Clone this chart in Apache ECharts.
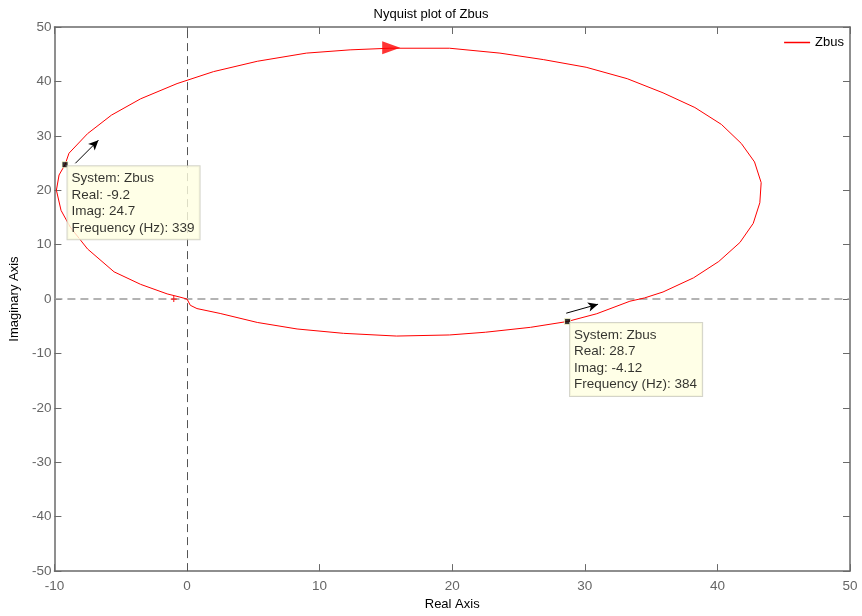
<!DOCTYPE html>
<html>
<head>
<meta charset="utf-8">
<script src="https://cdn.jsdelivr.net/npm/echarts@6/dist/echarts.min.js"></script>
<style>
  html, body { margin: 0; padding: 0; background: #fff; }
  #chart { width: 862px; height: 616px; }
</style>
</head>
<body>
<div id="chart"></div>
<script>
// Nyquist locus of Zbus, traced from the origin counter-clockwise back to it
const realPart = [0, -0.6, -1.5, -3.5, -5.5, -7.5, -8.8, -9.5, -9.85, -9.65, -9.2, -8.9, -7.5, -5.7, -3.5,
  -0.75, 2.0, 5.3, 9.0, 12.3, 15.3, 19.8, 23.6, 26.9, 30.1, 33.2, 35.9, 38.3, 40.3, 41.8, 42.8,
  43.3, 43.2, 42.7, 41.7, 40.1, 38.2, 35.9, 34.5, 33.4, 30.9, 28.7, 25.9, 22.5, 19.8, 15.8,
  11.8, 8.3, 5.3, 2.5, 0.75, 0.25, 0];
const imagPart = [0, 0.4, 0.95, 2.7, 5.0, 9.2, 13.2, 16.3, 20.0, 22.8, 24.7, 26.8, 30.4, 33.8, 36.8,
  39.6, 41.8, 43.7, 45.2, 45.8, 46.1, 46.1, 45.2, 44.0, 42.6, 40.5, 37.9, 35.2, 32.1, 28.6, 25.2,
  21.4, 17.7, 13.9, 10.4, 6.9, 3.9, 1.3, 0.2, -0.4, -2.7, -4.12, -5.2, -6.1, -6.6, -6.8,
  -6.3, -5.5, -4.3, -2.65, -1.75, -1.15, 0];

// direction marker on the upper branch
const directionArrow = [15.4, 46.2];
// critical point
const criticalPoint = [-1, 0];

// data tips: [real, imag, frequency in Hz]
const tipPoints = [[-9.2, 24.7, 339], [28.7, -4.12, 384]];
const tipSystem = 'Zbus';
// pointer arrows next to the data tips: [from, to]
const tipArrows = [
  [[-8.42, 24.95], [-6.68, 29.2]],
  [[28.6, -2.6], [31.0, -0.95]]
];

const xTicks = { min: -10, max: 50, interval: 10 };
const yTicks = { min: -50, max: 50, interval: 10 };

const FONT = '"Liberation Sans", Arial, Helvetica, sans-serif';
const AXIS_GRAY = '#6a6a6a';

const curve = realPart.map((x, i) => [x, imagPart[i]]);

const chart = echarts.init(document.getElementById('chart'), null, { renderer: 'canvas' });

const baseX = {
  type: 'value', min: xTicks.min, max: xTicks.max, interval: xTicks.interval,
  splitLine: { show: false },
  axisLine: { show: true, onZero: false, lineStyle: { color: AXIS_GRAY, width: 1.5 } },
  axisTick: { show: true, inside: true, length: 7, lineStyle: { color: AXIS_GRAY } }
};
const baseY = {
  type: 'value', min: yTicks.min, max: yTicks.max, interval: yTicks.interval,
  splitLine: { show: false },
  axisLine: { show: true, onZero: false, lineStyle: { color: AXIS_GRAY, width: 1.5 } },
  axisTick: { show: true, inside: true, length: 7, lineStyle: { color: AXIS_GRAY } }
};

chart.setOption({
  animation: false,
  backgroundColor: '#ffffff',
  textStyle: { fontFamily: FONT },
  title: {
    text: 'Nyquist plot of Zbus',
    left: 'center', top: 8, padding: 0,
    textStyle: { fontFamily: FONT, fontSize: 13, fontWeight: 'normal', color: '#000' }
  },
  legend: {
    data: ['Zbus'],
    right: 18, top: 36, padding: 0,
    itemWidth: 26, itemHeight: 2, itemGap: 2,
    icon: 'path://M0,0 L26,0 L26,1.5 L0,1.5 Z',
    textStyle: { fontFamily: FONT, fontSize: 13, color: '#000', padding: [0, 0, 0, 0] }
  },
  grid: { left: 54, right: 12, top: 27, bottom: 40, containLabel: false },
  xAxis: [
    Object.assign({}, baseX, {
      position: 'bottom',
      name: 'Real Axis', nameLocation: 'middle', nameGap: 20,
      nameTextStyle: { fontFamily: FONT, fontSize: 13, color: '#000' },
      axisLabel: { fontFamily: FONT, fontSize: 13.5, color: '#666', margin: 8 }
    }),
    Object.assign({}, baseX, { position: 'top', axisLabel: { show: false } })
  ],
  yAxis: [
    Object.assign({}, baseY, {
      position: 'left',
      name: 'Imaginary Axis', nameLocation: 'middle', nameGap: 29,
      nameTextStyle: { fontFamily: FONT, fontSize: 13, color: '#000' },
      axisLabel: { fontFamily: FONT, fontSize: 13.5, color: '#666', margin: 3 }
    }),
    Object.assign({}, baseY, { position: 'right', axisLabel: { show: false } })
  ],
  series: [
    {
      name: 'Zbus',
      type: 'line',
      data: curve,
      showSymbol: false,
      symbol: 'none',
      smooth: false,
      lineStyle: { color: '#ff0000', width: 1 },
      itemStyle: { color: '#ff0000' },
      z: 3,
      markLine: {
        silent: true,
        symbol: 'none',
        label: { show: false },
        data: [
          { xAxis: 0, lineStyle: { color: '#555', width: 1, type: [8, 5] } },
          { yAxis: 0, lineStyle: { color: '#9a9a9a', width: 1.5, type: [8, 5] } }
        ],
        z: 1
      }
    },
    {
      name: 'direction',
      type: 'scatter',
      data: [directionArrow],
      symbol: 'path://M0,0 L18,6.5 L0,13 Z',
      symbolSize: [18, 13],
      itemStyle: { color: '#ff0000' },
      silent: true,
      z: 4
    },
    {
      name: 'critical',
      type: 'scatter',
      data: [criticalPoint],
      symbol: 'path://M4,0 L6,0 L6,4 L10,4 L10,6 L6,6 L6,10 L4,10 L4,6 L0,6 L0,4 L4,4 Z',
      symbolSize: 6,
      itemStyle: { color: '#ff0000' },
      silent: true,
      z: 4
    },
    {
      name: 'tipArrows',
      type: 'line',
      data: [],
      markLine: {
        silent: true,
        symbol: ['none', 'arrow'],
        symbolSize: [7, 10],
        label: { show: false },
        lineStyle: { color: '#000', width: 1, type: 'solid' },
        data: tipArrows.map(a => [{ coord: a[0] }, { coord: a[1] }])
      }
    },
    {
      name: 'tips',
      type: 'scatter',
      data: tipPoints,
      symbol: 'rect',
      symbolSize: 6,
      itemStyle: { color: '#000', borderColor: '#ffffd0', borderWidth: 1 },
      silent: true,
      z: 6,
      label: {
        show: true,
        position: [6, 5],
        align: 'left',
        verticalAlign: 'top',
        formatter: p => [
          'System: ' + tipSystem,
          'Real: ' + p.value[0],
          'Imag: ' + p.value[1],
          'Frequency (Hz): ' + p.value[2]
        ].join('\n'),
        fontFamily: FONT,
        fontSize: 13.5,
        lineHeight: 16.5,
        color: '#000',
        backgroundColor: '#ffffe1',
        borderColor: '#c9c9bc',
        borderWidth: 1,
        padding: [4, 5, 3, 4]
      }
    }
  ]
});
</script>
</body>
</html>
